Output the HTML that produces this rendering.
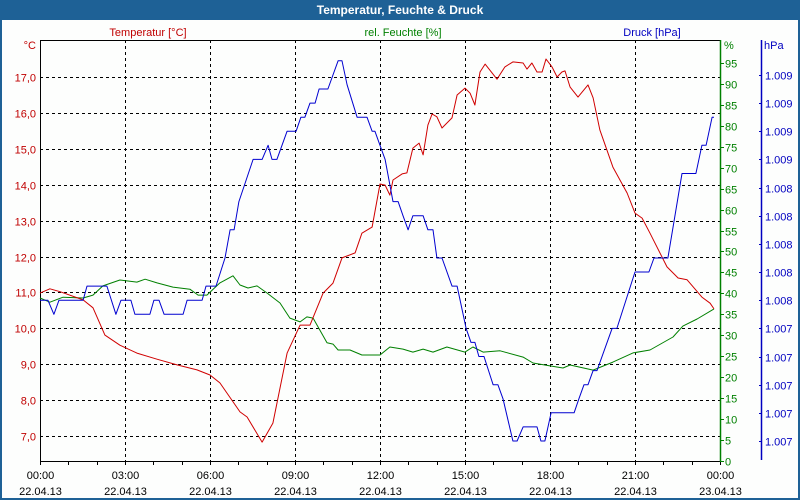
<!DOCTYPE html>
<html><head><meta charset="utf-8"><style>
html,body{margin:0;padding:0;background:#fff;}
svg{display:block;font-family:"Liberation Sans",sans-serif;}
</style></head><body>
<svg id="chart" width="800" height="500" viewBox="0 0 800 500">
<rect x="0" y="0" width="800" height="500" fill="#fdfefd"/>
<rect x="0" y="0" width="800" height="20" fill="#1e6196"/>
<rect x="1" y="1" width="798" height="498" fill="none" stroke="#1e6196" stroke-width="2"/>
<text x="400" y="14" text-anchor="middle" fill="#fff" font-weight="bold" font-size="12">Temperatur, Feuchte &amp; Druck</text>
<text x="148" y="36" text-anchor="middle" fill="#c00000" font-size="11">Temperatur [°C]</text>
<text x="403" y="36" text-anchor="middle" fill="#008000" font-size="11">rel. Feuchte [%]</text>
<text x="652" y="36" text-anchor="middle" fill="#0000c0" font-size="11">Druck [hPa]</text>
<text x="36" y="49" text-anchor="end" fill="#c00000" font-size="11">°C</text>
<text x="724" y="49" fill="#008000" font-size="11">%</text>
<text x="764" y="49" fill="#0000c0" font-size="11">hPa</text>
<g id="grid"></g>
<g id="axes"></g>
<g id="series"></g>
</svg>
<script>
const tempT=[0,0.35,0.71,1.52,1.87,2.29,2.82,3.42,4.13,4.84,5.54,6.00,6.35,7.06,7.31,7.84,8.22,8.72,9.18,9.53,9.99,10.34,10.66,11.12,11.36,11.72,12.00,12.18,12.35,12.46,12.78,12.95,13.16,13.38,13.52,13.69,13.84,14.01,14.19,14.54,14.72,15.00,15.18,15.35,15.53,15.71,16.13,16.41,16.69,17.05,17.19,17.36,17.54,17.72,17.86,18.07,18.25,18.42,18.53,18.71,18.99,19.34,19.52,19.76,20.22,20.72,21.00,21.25,21.53,22.13,22.52,22.84,23.36,23.65,23.79];
const tempV=[10.98,11.10,11.02,10.79,10.57,9.81,9.53,9.31,9.14,8.98,8.84,8.70,8.48,7.67,7.53,6.83,7.36,9.31,10.09,10.09,10.98,11.26,11.96,12.10,12.65,12.82,14.02,13.99,13.71,14.13,14.30,14.33,15.02,15.16,14.83,15.66,15.97,15.89,15.58,15.86,16.50,16.69,16.55,16.22,17.14,17.36,16.94,17.28,17.42,17.39,17.22,17.39,17.14,17.14,17.50,17.28,17.00,17.14,17.17,16.72,16.44,16.78,16.42,15.52,14.49,13.77,13.21,13.07,12.65,11.71,11.40,11.35,10.87,10.70,10.54];
const humT=[0,0.35,0.81,1.52,1.87,2.22,2.82,3.42,3.71,4.13,4.69,5.29,5.58,5.89,6.35,6.81,7.06,7.34,7.66,8.01,8.47,8.82,9.18,9.42,9.64,10.13,10.34,10.52,10.94,11.36,12.00,12.35,12.81,13.16,13.52,13.87,14.36,15.00,15.28,15.64,16.24,17.05,17.40,18.00,18.46,18.71,19.52,20.22,20.93,21.53,22.34,22.69,23.19,23.79];
const humV=[38.9,37.9,39.1,38.9,39.6,41.8,43.2,42.7,43.4,42.5,41.5,41.0,39.6,39.6,42.5,44.2,42.0,41.3,41.8,40.1,37.7,34.1,33.2,34.4,34.1,28.2,27.9,26.5,26.5,25.3,25.3,27.2,26.7,26.0,26.7,26.0,27.2,26.0,27.2,26.0,26.3,24.8,23.4,22.7,22.2,22.9,21.7,23.6,25.8,26.5,29.6,32.2,33.9,36.3];
const presT=[0,0.28,0.49,0.67,1.52,1.66,2.36,2.68,2.86,3.21,3.35,3.88,4.02,4.20,4.38,5.05,5.19,5.72,5.86,6.21,6.53,6.71,6.85,7.02,7.52,7.84,8.05,8.19,8.36,8.72,9.04,9.21,9.35,9.53,9.71,9.85,10.16,10.52,10.66,10.84,11.19,11.54,11.72,11.82,12.00,12.18,12.46,12.64,12.81,12.99,13.16,13.52,13.69,13.87,14.01,14.19,14.54,14.72,15.04,15.21,15.35,15.49,15.67,15.99,16.16,16.34,16.69,16.84,17.05,17.54,17.68,17.82,18.04,18.85,19.02,19.20,19.34,19.52,19.66,20.19,20.36,21.00,21.49,21.67,22.16,22.66,23.15,23.36,23.51,23.72,23.79];
const presV=[1007.6,1007.6,1007.5,1007.6,1007.6,1007.7,1007.7,1007.5,1007.6,1007.6,1007.5,1007.5,1007.6,1007.6,1007.5,1007.5,1007.6,1007.6,1007.7,1007.7,1007.9,1008.1,1008.1,1008.3,1008.6,1008.6,1008.7,1008.6,1008.6,1008.8,1008.8,1008.9,1008.9,1009.0,1009.0,1009.1,1009.1,1009.3,1009.3,1009.13,1008.9,1008.9,1008.8,1008.8,1008.7,1008.6,1008.3,1008.3,1008.2,1008.1,1008.2,1008.2,1008.1,1008.1,1007.9,1007.9,1007.7,1007.7,1007.4,1007.3,1007.3,1007.2,1007.2,1007.0,1007.0,1006.9,1006.6,1006.6,1006.7,1006.7,1006.6,1006.6,1006.8,1006.8,1006.9,1007.0,1007.0,1007.1,1007.1,1007.4,1007.4,1007.8,1007.8,1007.9,1007.9,1008.5,1008.5,1008.7,1008.7,1008.9,1008.9];
const tempTicks=[7,8,9,10,11,12,13,14,15,16,17];
const humTicks=[0,5,10,15,20,25,30,35,40,45,50,55,60,65,70,75,80,85,90,95];
const presTicks=[1006.6,1006.8,1007.0,1007.2,1007.4,1007.6,1007.8,1008.0,1008.2,1008.4,1008.6,1008.8,1009.0,1009.2];
const timeLabels=["00:00","03:00","06:00","09:00","12:00","15:00","18:00","21:00","00:00"];
const dateLabels=["22.04.13","22.04.13","22.04.13","22.04.13","22.04.13","22.04.13","22.04.13","22.04.13","23.04.13"];

const X0=40,X1=720,Y0=40,Y1=461;
const xS=h=>X0+h*(X1-X0)/24;
const yT=v=>77+(17-v)*35.9;
const yH=v=>461-v*4.19;
const yP=v=>441-(v-1006.6)*140.8;
const NS="http://www.w3.org/2000/svg";
function mk(tag,attrs,parent,txt){const e=document.createElementNS(NS,tag);for(const k in attrs)e.setAttribute(k,attrs[k]);if(txt!==undefined)e.textContent=txt;parent.appendChild(e);return e;}
const grid=document.getElementById('grid'),axes=document.getElementById('axes'),series=document.getElementById('series');

tempTicks.forEach(v=>{
  const y=Math.round(yT(v))+0.5;
  const l=mk('line',{x1:X0,x2:X1,y1:y,y2:y,stroke:'#000','stroke-dasharray':'3,3'},grid);
  
  
  const t=mk('text',{x:36,y:y+4,'text-anchor':'end',fill:'#c00000','font-size':11},axes,v.toFixed(1).replace('.',','));
  
  
});
timeLabels.forEach((lab,i)=>{
  const x=Math.round(xS(i*3))+0.5;
  if(i>0&&i<8){const l=mk('line',{x1:x,x2:x,y1:Y0,y2:Y1,stroke:'#000','stroke-dasharray':'3,3'},grid);
  
  }
  const t=mk('text',{x:x,y:479,'text-anchor':'middle',fill:'#000','font-size':11},axes,lab);
  
  
  const d=mk('text',{x:x,y:495,'text-anchor':'middle',fill:'#000','font-size':11},axes,dateLabels[i]);
  
  
});
for(let h=0;h<=24;h++){
  const x=Math.round(xS(h))+0.5;
  const l=mk('line',{x1:x,x2:x,y1:Y1,y2:Y1+4,stroke:'#000'},axes);
  
  
}
const frame=mk('path',{d:`M${X0+0.5} ${Y1+0.5}V${Y0+0.5}H${X1+0.5}M${X0} ${Y1+0.5}H${X1}`,stroke:'#000',fill:'none'},axes);


const gax=mk('line',{x1:X1+0.5,x2:X1+0.5,y1:Y0,y2:Y1+1,stroke:'#008000','stroke-width':1.5},axes);


humTicks.forEach(v=>{
  const y=Math.round(yH(v))+0.5;
  const l=mk('line',{x1:X1,x2:X1+4,y1:y,y2:y,stroke:'#008000'},axes);
  
  
  const t=mk('text',{x:X1+5,y:y+4,fill:'#008000','font-size':11},axes,String(v));
  
  
});
const pax=mk('line',{x1:761.5,x2:761.5,y1:40,y2:460,stroke:'#0000c0','stroke-width':1.5},axes);


presTicks.forEach(v=>{
  const y=Math.round(yP(v))+0.5;
  const l=mk('line',{x1:759,x2:762,y1:y,y2:y,stroke:'#0000c0'},axes);
  
  
  const t=mk('text',{x:765,y:y+4,fill:'#0000c0','font-size':11},axes,(Math.round(v)/1000).toFixed(3));
  
  
});
function line(T,V,yf,color,name){
  const d=T.map((t,i)=>(i?'L':'M')+xS(t).toFixed(1)+' '+yf(V[i]).toFixed(1)).join('');
  const p=mk('path',{d:d,fill:'none',stroke:color,'stroke-width':1,'stroke-linejoin':'round'},series);
  
  
}
line(humT,humV,yH,'#008000','humidity-line');
line(tempT,tempV,yT,'#d00000','temperature-line');
line(presT,presV,yP,'#0000d0','pressure-line');
</script>
</body></html>
